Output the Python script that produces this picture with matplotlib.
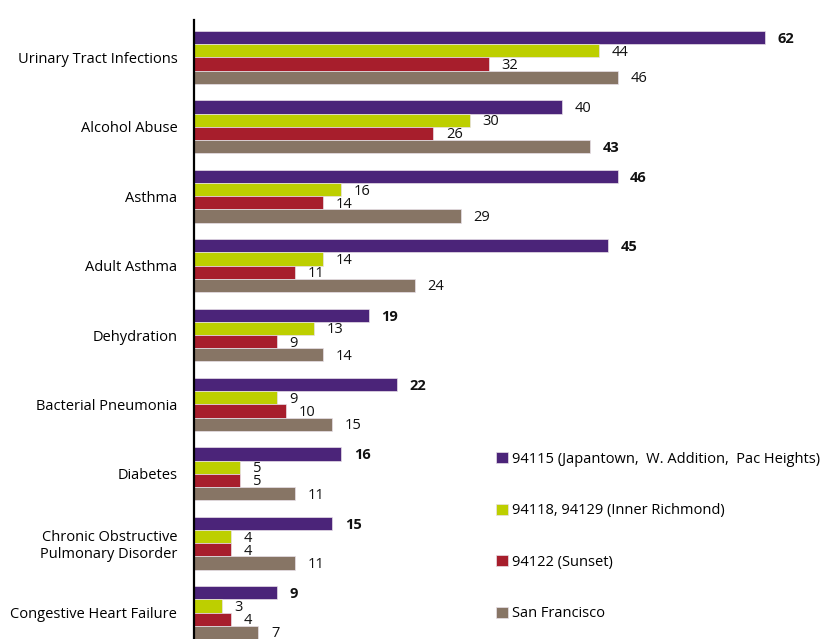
import numpy as np
import matplotlib.pyplot as plt

categories = ['Urinary Tract Infections', 'Alcohol Abuse', 'Asthma', 'Adult Asthma',
              'Dehydration', 'Bacterial Pneumonia', 'Diabetes',
              'Chronic Obstructive\nPulmonary Disorder', 'Congestive Heart Failure']
japantown = [62, 40, 46, 45, 19, 22, 16, 15, 9]
richmond = [44, 30, 16, 14, 13, 9, 5, 4, 3]
sunset = [32, 26, 14, 11, 9, 10, 5, 4, 4]
sf = [46, 43, 29, 24, 14, 15, 11, 11, 7]
series_names = ['94115 (Japantown,  W. Addition,  Pac Heights)',
                '94118, 94129 (Inner Richmond)', '94122 (Sunset)', 'San Francisco']
colors = ['#4B2479', '#BDCF00', '#A71E2C', '#877565']

plt.rcParams['font.family'] = ['Open Sans', 'DejaVu Sans']

fig = plt.figure(figsize=(8.23, 6.39), dpi=100)
ax = fig.add_axes([194/823, 0, 1 - 194/823, 1 - 20/639])

allvals = [japantown, richmond, sunset, sf]
y = np.arange(len(categories))
h = 0.19
offs = [-1.5*h, -0.5*h, 0.5*h, 1.5*h]
handles = []
for k in range(4):
    b = ax.barh(y + offs[k], allvals[k], height=h, color=colors[k],
                edgecolor='#e8e0e8', linewidth=0.5, label=series_names[k])
    handles.append(b)
    for i, v in enumerate(allvals[k]):
        mx = max(a[i] for a in allvals)
        ax.annotate(str(v), (v, y[i] + offs[k]), xytext=(9, -1), textcoords='offset points',
                    va='center', ha='left', fontsize=10.5,
                    fontweight='bold' if v == mx else 'normal', color='#111111')

ax.set_xlim(0, (823 - 194) / 9.21)
ax.set_ylim(8.38, -0.54)
ax.set_yticks(y)
ax.set_yticklabels(categories, fontsize=10.5, multialignment='right')
ax.tick_params(axis='y', length=0, pad=12)
ax.set_xticks([])
for s in ['top', 'right', 'bottom']:
    ax.spines[s].set_visible(False)
ax.spines['left'].set_linewidth(1.6)
ax.spines['left'].set_color('black')

leg = fig.legend(handles=handles, loc='upper left', bbox_to_anchor=(490/823, 1 - 446/639),
                 frameon=False, fontsize=10.5, handlelength=0.8, handleheight=0.8,
                 handletextpad=0.3, labelspacing=2.5, borderaxespad=0)

fig.savefig('out.png', dpi=100)
